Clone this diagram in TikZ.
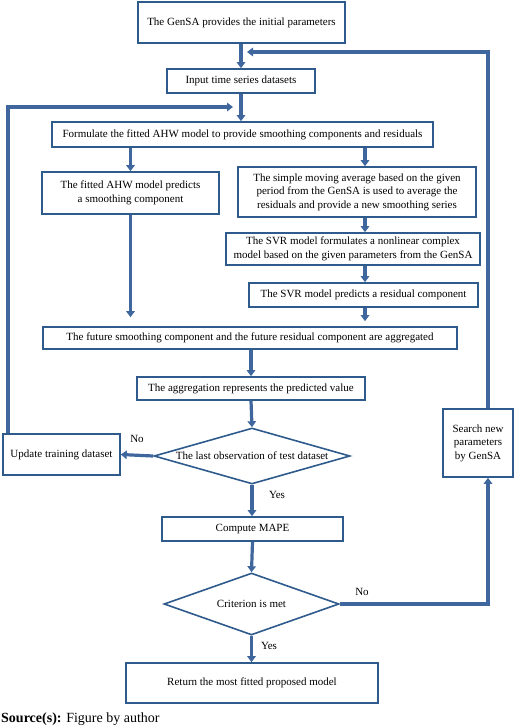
\documentclass[tikz,border=0pt]{standalone}
\usepackage{fontspec}
\setmainfont{Liberation Serif}
\usetikzlibrary{shapes.geometric,arrows.meta,calc}
\definecolor{boxc}{HTML}{2E5B8C}
\definecolor{linec}{HTML}{3F679E}
\tikzset{
  stepbox/.style={draw=boxc, line width=1.6pt, align=center, inner sep=1pt,
    font=\fontsize{11}{13.6}\selectfont, text=black},
  decide/.style={draw=boxc, line width=1.6pt, shape=diamond, aspect=3.5, inner sep=0pt,
    font=\fontsize{11}{13.6}\selectfont, text=black},
  flow/.style={draw=linec, line width=3.2pt, -{Triangle[width=8.5pt,length=6pt]}},
  lbl/.style={font=\fontsize{11}{13}\selectfont, text=black, inner sep=0pt},
}
\begin{document}
\begin{tikzpicture}[x=1pt,y=-1pt]
\useasboundingbox (0,0) rectangle (520,728);
% nodes
\node[stepbox, minimum width=207pt, minimum height=41pt] (b1) at (241.5,22.5) {The GenSA provides the initial parameters};
\node[stepbox, minimum width=148pt, minimum height=24pt] (b2) at (241,81) {Input time series datasets};
\node[stepbox, minimum width=381pt, minimum height=25pt] (b3) at (242.5,134.5) {Formulate the fitted AHW model to provide smoothing components and residuals};
\node[stepbox, minimum width=177pt, minimum height=42pt] (b4) at (130.5,193) {The fitted AHW model predicts\\a smoothing component};
\node[stepbox, minimum width=238pt, minimum height=50pt] (b5) at (357,192) {The simple moving average based on the given\\period from the GenSA is used to average the\\residuals and provide a new smoothing series};
\node[stepbox, minimum width=254pt, minimum height=32pt] (b6) at (353,249) {The SVR model formulates a nonlinear complex\\model based on the given parameters from the GenSA};
\node[stepbox, minimum width=229pt, minimum height=24pt] (b7) at (363.5,295) {The SVR model predicts a residual component};
\node[stepbox, minimum width=414pt, minimum height=22pt] (b8) at (250,338) {The future smoothing component and the future residual component are aggregated};
\node[stepbox, minimum width=228pt, minimum height=23pt] (b9) at (251,388.5) {The aggregation represents the predicted value};
\node[decide, minimum width=196pt, minimum height=56pt] (d1) at (252,456) {The last observation of test dataset};
\node[stepbox, minimum width=117pt, minimum height=41pt] (upd) at (61.5,454.5) {Update training dataset};
\node[stepbox, minimum width=70pt, minimum height=68pt] (srch) at (478,443) {Search new\\parameters\\by GenSA};
\node[stepbox, minimum width=181pt, minimum height=24pt] (b10) at (252.5,529) {Compute MAPE};
\node[decide, minimum width=175pt, minimum height=62pt] (d2) at (251.5,604) {Criterion is met};
\node[stepbox, minimum width=252pt, minimum height=40pt] (b11) at (252,683) {Return the most fitted proposed model};
\node[anchor=west, inner sep=0pt, font=\fontsize{14}{16}\selectfont] (src) at (1,719) {\textbf{Source(s):} Figure by author};
% helper coordinates
\coordinate (cx) at (365,0);
\coordinate (rx) at (488,0);
\coordinate (lx) at (8,0);
\coordinate (j1) at (247,52);
\coordinate (j2) at (233,107);
% connectors
\draw[flow] (b1.south -| b2.north) -- (b2.north);
\draw[flow] (srch.north -| rx) |- (j1);
\draw[flow] (b2.south) -- (b3.north -| b2.south);
\draw[flow] (upd.north -| lx) |- (j2);
\draw[flow] (b3.south -| b4.north) -- (b4.north);
\draw[flow] (b3.south -| cx) -- (b5.north -| cx);
\draw[flow] (b5.south -| cx) -- (b6.north -| cx);
\draw[flow] (b6.south -| cx) -- (b7.north -| cx);
\draw[flow, shorten >=5pt] (b7.south -| cx) -- (b8.north -| cx);
\draw[flow, shorten >=9pt] (b4.south) -- (b8.north -| b4.south);
\draw[flow] (b8.south -| b9.north) -- (b9.north);
\draw[flow] (b9.south) -- (d1.north);
\draw[flow] (d1.west) -- (upd.east);
\draw[flow] (d1.south) -- (b10.north -| d1.south);
\draw[flow] (b10.south) -- (d2.north);
\draw[flow] (d2.east) -| (srch.south -| rx);
\draw[flow] (d2.south) -- (b11.north -| d2.south);
% labels
\node[lbl] (no1) at (137,439) {No};
\node[lbl] (yes1) at (277,495) {Yes};
\node[lbl] (no2) at (362,592) {No};
\node[lbl] (yes2) at (269,646) {Yes};
\end{tikzpicture}
\end{document}
